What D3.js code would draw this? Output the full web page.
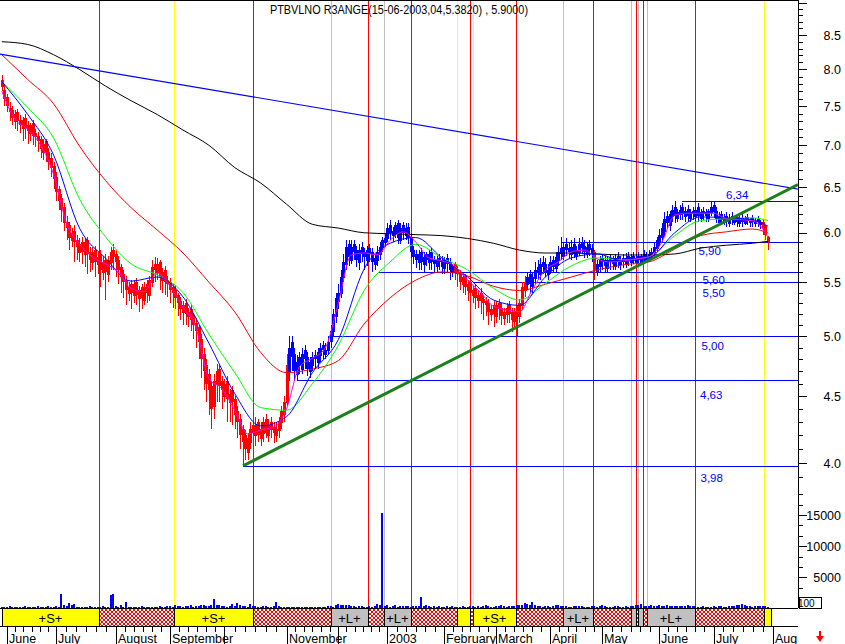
<!DOCTYPE html>
<html><head><meta charset="utf-8">
<script src="https://cdn.jsdelivr.net/npm/d3@7"></script>
<style>body{margin:0;background:#fff;} svg{display:block;font-family:"Liberation Sans",Arial,sans-serif;}</style>
</head><body><svg id="c" width="845" height="644"></svg>
<script>
// ---------- DATA ----------
const monthLabels = ["June","July","August","September","","November","","2003","February","March","April","May","June","July","August"];
const monthStart  = [2,21,44,65,86,110,130,149,171,191,212,232,254,275,298];

const opens = [
7.85,7.72,7.62,7.48,7.45, 7.30,7.42,7.32,7.22,7.35, 7.25,7.15,7.28,7.15,7.12, 7.08,6.92,7.05,6.92,6.85,
6.75,6.62,6.48,6.38,6.28, 6.12,6.08,5.92,6.02,5.92, 5.80,5.90,5.78,5.92,5.80, 5.70,5.82,5.68,5.78,5.60,
5.72,5.58,5.70,5.82,5.78, 5.72,5.65,5.58,5.52,5.40, 5.48,5.38,5.50,5.35,5.45, 5.33,5.48,5.38,5.50,5.68,
5.60,5.70,5.52,5.62,5.52, 5.50,5.45,5.42,5.38,5.32, 5.22,5.30,5.18,5.25,5.18, 5.12,5.08,4.98,4.85,4.75,
4.68,4.58,4.42,4.60,4.72, 4.62,4.50,4.62,4.45,4.55, 4.48,4.38,4.32,4.25,4.20, 4.08,4.15,4.28,4.20,4.30,
4.18,4.22,4.32,4.20,4.30, 4.26,4.20,4.24,4.30,4.36, 4.45,4.70,4.95,4.85,4.68, 4.82,4.72,4.88,4.82,4.70,
4.75,4.84,4.78,4.84,4.92, 4.85,4.88,4.96,5.05,5.18, 5.32,5.40,5.55,5.68,5.88, 5.72,5.88,5.82,5.70,5.85,
5.80,5.72,5.84,5.80,5.68, 5.72,5.78,5.85,5.90,5.95, 6.08,5.98,6.00,6.10,5.92, 6.08,5.98,6.06,5.96,5.82,
5.78,5.70,5.80,5.68,5.78, 5.70,5.80,5.72,5.66,5.74, 5.72,5.64,5.74,5.70,5.60, 5.68,5.62,5.60,5.48,5.56,
5.42,5.50,5.38,5.44,5.33, 5.40,5.34,5.32,5.30,5.20, 5.28,5.18,5.30,5.26,5.16, 5.20,5.28,5.22,5.14,5.24,
5.18,5.28,5.42,5.48,5.58, 5.46,5.54,5.65,5.58,5.70, 5.68,5.58,5.62,5.72,5.64, 5.72,5.84,5.76,5.88,5.84,
5.78,5.88,5.76,5.80,5.90, 5.86,5.78,5.88,5.84,5.80, 5.60,5.66,5.74,5.72,5.64, 5.74,5.72,5.66,5.76,5.68,
5.74,5.68,5.76,5.70,5.76, 5.70,5.76,5.70,5.78,5.72, 5.74,5.76,5.80,5.84,5.90, 5.96,6.02,6.18,6.08,6.18,
6.28,6.16,6.20,6.28,6.18, 6.26,6.16,6.24,6.18,6.28, 6.16,6.24,6.22,6.16,6.22, 6.30,6.24,6.12,6.20,6.12,
6.18,6.10,6.18,6.12,6.17, 6.10,6.16,6.10,6.17,6.11, 6.16,6.10,6.15,6.09,6.12, 6.07,5.96];

const highs = [
7.92,7.80,7.66,7.55,7.50, 7.45,7.46,7.38,7.36,7.40, 7.30,7.28,7.32,7.20,7.16, 7.12,7.08,7.08,6.96,6.90,
6.80,6.68,6.52,6.42,6.32, 6.18,6.12,6.05,6.08,5.98, 5.95,5.96,5.95,5.96,5.85, 5.85,5.86,5.80,5.82,5.76,
5.78,5.76,5.85,5.88,5.82, 5.76,5.68,5.62,5.56,5.50, 5.52,5.52,5.54,5.46,5.48, 5.50,5.52,5.56,5.72,5.75,
5.74,5.72,5.64,5.66,5.56, 5.54,5.48,5.46,5.40,5.36, 5.32,5.34,5.26,5.28,5.20, 5.16,5.10,5.02,4.90,4.80,
4.72,4.62,4.68,4.76,4.76, 4.66,4.64,4.66,4.56,4.58, 4.50,4.42,4.36,4.28,4.24, 4.22,4.30,4.32,4.34,4.32,
4.30,4.34,4.36,4.32,4.34, 4.30,4.30,4.34,4.42,4.50, 4.85,5.00,5.00,4.90,4.84, 4.86,4.90,4.92,4.86,4.82,
4.86,4.88,4.90,4.94,4.96, 4.94,5.00,5.10,5.25,5.40, 5.48,5.62,5.78,5.92,5.92, 5.92,5.92,5.86,5.88,5.90,
5.84,5.86,5.88,5.84,5.78, 5.86,5.90,5.96,6.00,6.10, 6.14,6.06,6.12,6.14,6.10, 6.12,6.10,6.10,6.00,5.86,
5.82,5.82,5.84,5.80,5.80, 5.82,5.84,5.76,5.76,5.78, 5.76,5.75,5.78,5.74,5.68, 5.70,5.66,5.62,5.58,5.58,
5.52,5.54,5.46,5.48,5.42, 5.44,5.38,5.36,5.34,5.28, 5.32,5.32,5.34,5.30,5.26, 5.30,5.32,5.26,5.26,5.28,
5.34,5.50,5.56,5.60,5.62, 5.60,5.70,5.72,5.74,5.76, 5.74,5.68,5.76,5.76,5.80, 5.86,5.96,5.90,5.94,5.90,
5.92,5.94,5.86,5.94,5.96, 5.92,5.90,5.92,5.88,5.82, 5.72,5.76,5.78,5.76,5.76, 5.78,5.76,5.78,5.80,5.76,
5.78,5.79,5.80,5.78,5.80, 5.78,5.80,5.78,5.82,5.80, 5.82,5.84,5.90,5.96,6.04, 6.10,6.22,6.24,6.24,6.30,
6.34,6.26,6.30,6.32,6.28, 6.30,6.26,6.28,6.28,6.32, 6.26,6.28,6.26,6.26,6.34, 6.34,6.28,6.22,6.24,6.20,
6.22,6.20,6.22,6.18,6.20, 6.18,6.20,6.18,6.20,6.16, 6.19,6.16,6.18,6.14,6.14, 6.08,5.97];

const lows = [
7.70,7.50,7.42,7.30,7.25, 7.20,7.18,7.15,7.05,7.08, 7.02,7.05,7.00,6.98,6.92, 6.85,6.82,6.80,6.70,6.62,
6.48,6.35,6.25,6.12,6.02, 5.92,5.82,5.85,5.70,5.72, 5.70,5.68,5.65,5.58,5.60, 5.62,5.55,5.58,5.45,5.52,
5.33,5.50,5.62,5.62,5.55, 5.48,5.40,5.35,5.28,5.32, 5.25,5.30,5.28,5.22,5.25, 5.28,5.30,5.32,5.45,5.50,
5.52,5.42,5.40,5.38,5.36, 5.30,5.26,5.25,5.18,5.15, 5.10,5.10,5.08,5.05,4.98, 4.90,4.80,4.65,4.55,4.45,
4.35,4.25,4.32,4.45,4.45, 4.40,4.45,4.30,4.30,4.28, 4.25,4.18,4.10,3.98,4.02, 4.02,4.10,4.15,4.12,4.15,
4.12,4.15,4.18,4.15,4.18, 4.14,4.15,4.18,4.25,4.30, 4.42,4.62,4.70,4.62,4.62, 4.68,4.68,4.72,4.66,4.65,
4.70,4.72,4.72,4.78,4.80, 4.80,4.84,4.90,5.00,5.12, 5.25,5.35,5.50,5.62,5.66, 5.68,5.72,5.65,5.62,5.70,
5.62,5.66,5.70,5.60,5.62, 5.66,5.72,5.80,5.85,5.90, 5.92,5.90,5.94,5.88,5.88, 5.92,5.92,5.88,5.74,5.68,
5.64,5.62,5.62,5.60,5.66, 5.62,5.62,5.60,5.60,5.62, 5.58,5.58,5.60,5.52,5.55, 5.52,5.45,5.42,5.40,5.38,
5.32,5.30,5.30,5.25,5.26, 5.20,5.15,5.18,5.10,5.14, 5.08,5.12,5.15,5.10,5.10, 5.12,5.12,5.04,5.08,5.00,
5.12,5.24,5.36,5.42,5.40, 5.40,5.48,5.52,5.52,5.58, 5.55,5.52,5.58,5.60,5.60, 5.66,5.72,5.72,5.76,5.74,
5.72,5.74,5.72,5.76,5.78, 5.74,5.74,5.76,5.70,5.52, 5.56,5.60,5.62,5.60,5.60, 5.62,5.62,5.62,5.64,5.62,
5.64,5.64,5.66,5.66,5.68, 5.68,5.68,5.68,5.70,5.70, 5.70,5.72,5.76,5.80,5.86, 5.90,5.96,6.04,6.02,6.12,
6.10,6.12,6.14,6.14,6.12, 6.12,6.12,6.14,6.12,6.12, 6.12,6.14,6.12,6.12,6.18, 6.16,6.10,6.10,6.08,6.08,
6.06,6.06,6.08,6.08,6.06, 6.06,6.06,6.08,6.08,6.06, 6.06,6.06,6.06,6.04,5.98, 5.92,5.82];

const closes = [
7.75,7.60,7.50,7.42,7.35, 7.40,7.30,7.25,7.32,7.22, 7.18,7.25,7.12,7.10,7.05, 6.95,7.02,6.90,6.80,6.72,
6.60,6.45,6.35,6.25,6.10, 6.05,5.95,6.00,5.90,5.85, 5.88,5.80,5.90,5.78,5.72, 5.80,5.70,5.75,5.62,5.70,
5.60,5.72,5.80,5.75,5.70, 5.62,5.55,5.50,5.42,5.45, 5.40,5.48,5.38,5.42,5.35, 5.45,5.40,5.52,5.65,5.62,
5.68,5.55,5.60,5.50,5.48, 5.42,5.40,5.35,5.30,5.25, 5.28,5.20,5.22,5.15,5.10, 5.05,4.95,4.80,4.70,4.60,
4.55,4.40,4.62,4.70,4.58, 4.55,4.60,4.48,4.52,4.45, 4.35,4.30,4.20,4.15,4.10, 4.18,4.25,4.22,4.28,4.20,
4.25,4.30,4.22,4.28,4.24, 4.22,4.25,4.30,4.38,4.45, 4.75,4.90,4.82,4.70,4.78, 4.75,4.85,4.80,4.72,4.78,
4.82,4.80,4.86,4.90,4.88, 4.88,4.95,5.05,5.20,5.35, 5.40,5.55,5.70,5.85,5.75, 5.85,5.80,5.72,5.82,5.78,
5.75,5.82,5.78,5.70,5.74, 5.80,5.85,5.92,5.95,6.05, 6.00,6.02,6.08,5.95,6.05, 6.00,6.05,5.95,5.80,5.75,
5.72,5.78,5.70,5.75,5.72, 5.78,5.70,5.68,5.72,5.70, 5.65,5.72,5.68,5.62,5.66, 5.60,5.58,5.50,5.55,5.45,
5.48,5.40,5.42,5.35,5.38, 5.32,5.30,5.28,5.22,5.25, 5.20,5.28,5.25,5.18,5.22, 5.26,5.20,5.15,5.22,5.18,
5.30,5.45,5.50,5.55,5.48, 5.55,5.62,5.60,5.68,5.65, 5.60,5.62,5.70,5.65,5.75, 5.80,5.78,5.85,5.82,5.80,
5.85,5.78,5.82,5.88,5.84, 5.80,5.85,5.82,5.78,5.62, 5.68,5.72,5.70,5.66,5.72, 5.70,5.68,5.74,5.70,5.72,
5.70,5.74,5.72,5.75,5.73, 5.74,5.72,5.76,5.74,5.76, 5.78,5.80,5.85,5.92,5.98, 6.05,6.15,6.10,6.20,6.25,
6.18,6.22,6.25,6.20,6.24, 6.18,6.22,6.20,6.25,6.18, 6.22,6.20,6.18,6.24,6.28, 6.22,6.15,6.18,6.14,6.16,
6.12,6.16,6.14,6.15,6.12, 6.14,6.12,6.15,6.13,6.14, 6.12,6.13,6.11,6.12,6.05, 5.98,5.90];

const volumes = [
300,250,200,350,300,250,200,300,250,350, 300,200,250,300,350,250,300,200,400,300,
250,450,300,2300,500,350,900,600,700,300, 250,300,200,250,350,300,200,250,300,350,
250,300,2100,2400,350,300,600,250,1100,300, 250,200,300,250,350,300,250,200,300,250,
300,350,250,300,400,350,300,500,450,350, 300,400,350,500,300,450,400,550,600,400,
450,500,1500,600,500,400,350,300,450,700, 400,900,500,400,350,300,700,400,350,300,
300,350,400,300,250,450,1000,350,300,300, 250,300,200,300,250,200,250,300,250,200,
250,300,250,200,300,250,400,350,300,500, 700,500,600,500,600,400,450,300,350,400,
300,250,350,300,400,800,500,15300,400,500, 300,350,600,300,400,350,400,350,300,400,
350,400,1800,400,500,350,300,400,300,350, 300,250,400,300,350,300,250,300,350,300,
300,350,400,300,350,300,400,500,350,300, 300,350,400,500,350,300,400,350,450,500,
600,500,900,700,600,1000,500,400,350,300, 350,400,300,350,500,600,450,400,350,300,
300,350,400,450,350,300,250,300,400,350, 300,350,500,400,300,250,300,350,400,300,
300,350,300,400,450,600,500,700,400,350, 400,500,450,400,500,450,400,500,450,400,
400,450,400,350,400,500,450,400,350,300, 300,350,300,250,300,350,300,400,350,300,
300,350,400,450,500,600,800,550,400,350, 300,350,400,450,350,400,300];

// candle colouring (trend direction) starting at bar index
const trendStart = [0,111,175,203,229,230,294];
const trendDir   = ["down","up","down","up","down","up","down"];

const maIdx = [0,10,20,30,40,50,60,70,80,90,100,110,120,130,140,150,160,170,180,190,200,210,220,230,240,250,260,270,280,290,296];
const ma200 = [8.40,8.36,8.21,8.00,7.77,7.57,7.39,7.19,7.00,6.73,6.55,6.31,6.09,6.05,6.00,5.99,5.98,5.97,5.94,5.89,5.82,5.79,5.79,5.78,5.77,5.77,5.78,5.84,5.87,5.89,5.91];
const ma50  = [8.21,7.86,7.53,6.99,6.58,6.27,6.03,5.79,5.50,5.22,4.86,4.69,4.72,4.79,5.11,5.35,5.52,5.60,5.56,5.46,5.42,5.48,5.55,5.62,5.67,5.70,5.83,5.97,6.01,6.04,6.00];
const ma20  = [7.83,7.48,7.09,6.37,5.96,5.68,5.57,5.40,5.02,4.69,4.41,4.39,4.60,4.92,5.42,5.70,5.88,5.74,5.62,5.44,5.33,5.49,5.66,5.74,5.72,5.75,5.97,6.13,6.15,6.16,6.13];
const ma10  = [7.83,7.39,6.88,6.05,5.74,5.51,5.55,5.36,4.94,4.52,4.27,4.34,4.69,4.97,5.63,5.89,5.95,5.74,5.55,5.33,5.28,5.55,5.74,5.78,5.71,5.74,6.00,6.17,6.16,6.14,6.07];
const ma5Idx = [0,5,10,15,20,25,30,35,40,45,50,55,60,65,70,75,80,85,90,95,100,105,110,115,120,125,130,135,140,145,150,155,160,165,170,175,180,185,190,195,200,205,210,215,220,225,230,235,240,245,250,255,260,265,270,275,280,285,290,295,296];
const ma5   = [7.70,7.33,7.20,7.00,6.65,6.10,5.88,5.75,5.68,5.60,5.44,5.41,5.59,5.46,5.26,5.08,4.64,4.56,4.39,4.21,4.24,4.26,4.40,4.74,4.81,4.90,5.30,5.77,5.79,5.77,5.92,6.01,5.90,5.74,5.71,5.66,5.52,5.40,5.27,5.24,5.22,5.43,5.62,5.70,5.80,5.82,5.73,5.70,5.71,5.73,5.75,5.90,6.19,6.21,6.21,6.21,6.15,6.14,6.13,6.00,5.95];

// support / resistance levels and the bar where each begins
const levels    = [6.34,5.90,5.60,5.50,5.00,4.63,3.98];
const levelFrom = [262.8,216.5,145.4,182,127.2,114.4,93.2];

// trend lines: [bar index, price]
const downTrend = [[-0.7,8.22],[307.6,6.48]];
const upTrend   = [[93.2,3.98],[307.6,6.53]];

// signal strip: S = short, L = long, X = out
const signalStart = [0,37.5,66.5,97,127,141.5,147.7,158,176,181,182,198.7,216.8,228.4,243.1,245,245.8,247.8,249.3,267.9,294.5];
const signalType  = ["S","X","S","X","L","X","L","X","S","X","S","X","L","X","L","X","L","X","L","X","S"];
const signalEnd   = 297.2;

const priceTicks = [4.0,4.5,5.0,5.5,6.0,6.5,7.0,7.5,8.0,8.5];
const volTicks   = [5000,10000,15000];
const titleText  = "PTBVLNO R3ANGE(15-06-2003,04,5.3820) , 5.9000)";

// ---------- CHART ----------
const svg = d3.select("#c");
const W = 798, PB = 608;
const x = d3.scaleLinear().domain([0,296]).range([1.82,767.9]);
const y = d3.scaleLog().domain([4,8.5]).range([463,35]);
const yv = d3.scaleLinear().domain([0,15000]).range([608.5,515]);

const defs = svg.append("defs");
defs.append("clipPath").attr("id","plot").append("rect").attr("x",0).attr("y",0).attr("width",W).attr("height",PB);
defs.append("clipPath").attr("id","mclip").append("rect").attr("x",0).attr("y",626).attr("width",W).attr("height",20);
const pat = defs.append("pattern").attr("id","hatch").attr("patternUnits","userSpaceOnUse").attr("width",4).attr("height",4);
pat.append("rect").attr("width",4).attr("height",4).attr("fill","#fff");
pat.append("path").attr("d","M0,0L4,4M4,0L0,4M-1,3L1,5M3,-1L5,1M-1,1L1,-1M3,5L5,3").attr("stroke","#ff0000").attr("stroke-width",1);

svg.append("rect").attr("width",845).attr("height",644).attr("fill","#fff");

const g = svg.append("g").attr("clip-path","url(#plot)");

// signal vertical lines
const sigColor = {S:"#ffff00", L:"#c0c0c0", X:"#ff0000"};
const sigFill = {S:"#ffff00", L:"#c0c0c0", X:"url(#hatch)"};
signalStart.forEach((s,k)=>{
  if(k===0) return;
  const xx = Math.round(x(s))+0.5;
  g.append("line").attr("x1",xx).attr("x2",xx).attr("y1",0).attr("y2",PB)
   .attr("stroke",sigColor[signalType[k]]).attr("stroke-width",1).attr("shape-rendering","crispEdges");
});

// horizontal levels
const labelDy = [-2.5,12.5,11,14.5,13.5,18,15];
const labelX  = [726,698.5,702.5,702.5,701.5,700,700.5];
levels.forEach((v,k)=>{
  const yy = Math.round(y(v))+0.5;
  g.append("line").attr("x1",Math.round(x(levelFrom[k]))).attr("x2",W).attr("y1",yy).attr("y2",yy)
   .attr("stroke","#0000ff").attr("stroke-width",1).attr("shape-rendering","crispEdges");
  g.append("text").attr("x",labelX[k]).attr("y",yy+labelDy[k]).attr("fill","#0000ff")
   .attr("font-size",11.5).text(d3.format(".2f")(v).replace(".",","));
});

// candles
const bars = closes.map((c,i)=>{
  let k=0; for(let j=0;j<trendStart.length;j++) if(i>=trendStart[j]) k=j;
  return {i,o:opens[i],h:Math.max(highs[i],opens[i],c),l:Math.min(lows[i],opens[i],c),c,dir:trendDir[k]};
});
const col = d=> d.dir==="up" ? "#0000ff" : "#ff0000";
const cg = g.append("g").attr("shape-rendering","crispEdges");
cg.selectAll("line.w").data(bars).join("line")
  .attr("x1",d=>Math.round(x(d.i))+0.5).attr("x2",d=>Math.round(x(d.i))+0.5)
  .attr("y1",d=>y(d.h)).attr("y2",d=>y(d.l)).attr("stroke",col).attr("stroke-width",1);
cg.selectAll("rect.b").data(bars).join("rect")
  .attr("x",d=>Math.round(x(d.i))-1+(d.c>=d.o?0.5:0))
  .attr("y",d=>y(Math.max(d.o,d.c))+(d.c>=d.o?0.5:0))
  .attr("width",d=>d.c>=d.o?2:3)
  .attr("height",d=>Math.max(1,Math.abs(y(d.o)-y(d.c))))
  .attr("fill",d=>d.c>=d.o?"none":col(d))
  .attr("stroke",d=>d.c>=d.o?col(d):"none").attr("stroke-width",1);

// moving averages
const line = d3.line().x(d=>x(d[0])).y(d=>y(d[1])).curve(d3.curveMonotoneX);
const mas = [[maIdx,ma200,"#000000"],[maIdx,ma50,"#ff0000"],[maIdx,ma20,"#00ff00"],[maIdx,ma10,"#0000ff"],[ma5Idx,ma5,"#ff00ff"]];
mas.forEach(([ix,vals,c])=>{
  g.append("path").attr("d",line(ix.map((i,k)=>[i,vals[k]]))).attr("fill","none").attr("stroke",c).attr("stroke-width",1);
});

// trend lines
const tl = d3.line().x(d=>x(d[0])).y(d=>y(d[1]));
g.append("path").attr("d",tl(downTrend)).attr("stroke","#0000ff").attr("stroke-width",1.2).attr("fill","none");
g.append("path").attr("d",tl(upTrend)).attr("stroke","#1b7f1b").attr("stroke-width",3).attr("fill","none");

// volume
g.append("g").attr("shape-rendering","crispEdges").selectAll("rect").data(volumes).join("rect")
  .attr("x",(v,i)=>Math.round(x(i))-1).attr("width",2)
  .attr("y",v=>yv(v)).attr("height",v=>PB-yv(v)).attr("fill","#0000ff");

// frame lines
const fr = svg.append("g").attr("shape-rendering","crispEdges");
fr.append("line").attr("x1",0).attr("x2",W).attr("y1",0.5).attr("y2",0.5).attr("stroke","#000");
fr.append("line").attr("x1",0).attr("x2",W).attr("y1",PB+0.5).attr("y2",PB+0.5).attr("stroke","#000");
fr.append("line").attr("x1",W+0.5).attr("x2",W+0.5).attr("y1",0).attr("y2",PB).attr("stroke","#000");

// signal strip
const sg = svg.append("g").attr("shape-rendering","crispEdges");
signalStart.forEach((s,k)=>{
  const e = k<signalStart.length-1 ? signalStart[k+1] : signalEnd;
  const x0 = Math.round(x(s)), x1 = Math.round(x(e));
  const t = signalType[k];
  sg.append("rect").attr("x",x0).attr("y",609).attr("width",Math.max(1,x1-x0)).attr("height",17).attr("fill",sigFill[t]);
  sg.append("line").attr("x1",x0+0.5).attr("x2",x0+0.5).attr("y1",609).attr("y2",626).attr("stroke","#000");
  if(t!=="X" && x1-x0>25){
    svg.append("text").attr("x",(x0+x1)/2).attr("y",622.5).attr("text-anchor","middle").attr("font-size",13)
      .attr("fill","#000").text("+"+t+"+");
  }
});
sg.append("line").attr("x1",Math.round(x(signalEnd))+0.5).attr("x2",Math.round(x(signalEnd))+0.5).attr("y1",609).attr("y2",626).attr("stroke","#000");
sg.append("line").attr("x1",0).attr("x2",W).attr("y1",626.5).attr("y2",626.5).attr("stroke","#000");

// time axis
const ta = svg.append("g").attr("shape-rendering","crispEdges").attr("clip-path","url(#mclip)");
monthStart.forEach((m,k)=>{
  const xm = Math.round(x(m))+0.5;
  ta.append("line").attr("x1",xm).attr("x2",xm).attr("y1",626).attr("y2",644).attr("stroke","#000");
  if(k<monthStart.length-1){
    const xn = x(monthStart[k+1]);
    for(let j=1;j<6;j++){
      const xt = Math.round(x(m)+(xn-x(m))*j/6)+0.5;
      ta.append("line").attr("x1",xt).attr("x2",xt).attr("y1",626).attr("y2",632).attr("stroke","#000");
    }
  }
  if(monthLabels[k]) ta.append("text").attr("x",xm+1.5).attr("y",642.5).attr("font-size",12.5).attr("fill","#000").text(monthLabels[k]);
});

// price axis
const ax = svg.append("g").attr("shape-rendering","crispEdges");
for(let t=38;t<=90;t++){
  const v=t/10, yy=Math.round(y(v))+0.5;
  if(yy<1||yy>486) continue;
  const major = t%5===0;
  ax.append("line").attr("x1",W).attr("x2",W+(major?9:5)).attr("y1",yy).attr("y2",yy).attr("stroke","#000");
}
priceTicks.forEach(v=>{
  svg.append("text").attr("x",841).attr("y",y(v)+4.5).attr("text-anchor","end").attr("font-size",12.5).attr("fill","#000").text(v.toFixed(1));
});
// volume axis
for(let k=1;k<=12;k++){
  const v=k*5000/3, yy=Math.round(yv(v))+0.5;
  if(yy<486) continue;
  ax.append("line").attr("x1",W).attr("x2",W+(k%3===0?9:5)).attr("y1",yy).attr("y2",yy).attr("stroke","#000");
}
volTicks.forEach(v=>{
  svg.append("text").attr("x",841).attr("y",yv(v)+4.5).attr("text-anchor","end").attr("font-size",12.5).attr("fill","#000").text(v);
});
// volume unit box
svg.append("rect").attr("x",799.5).attr("y",597.5).attr("width",22).attr("height",11).attr("fill","#fff").attr("stroke","#000").attr("shape-rendering","crispEdges");
svg.append("text").attr("x",798).attr("y",607).attr("font-size",10).attr("fill","#000").text("100");

// arrow
svg.append("path").attr("d","M819,631L821,631L821,636L824,636L820,642L816,636L819,636Z").attr("fill","#ff0000");

// title (single caption fitted to the span the reference's captions occupy)
svg.append("text").attr("x",270).attr("y",14).attr("font-size",12).attr("fill","#000")
  .attr("textLength",258).attr("lengthAdjust","spacingAndGlyphs").text(titleText);
</script></body></html>
